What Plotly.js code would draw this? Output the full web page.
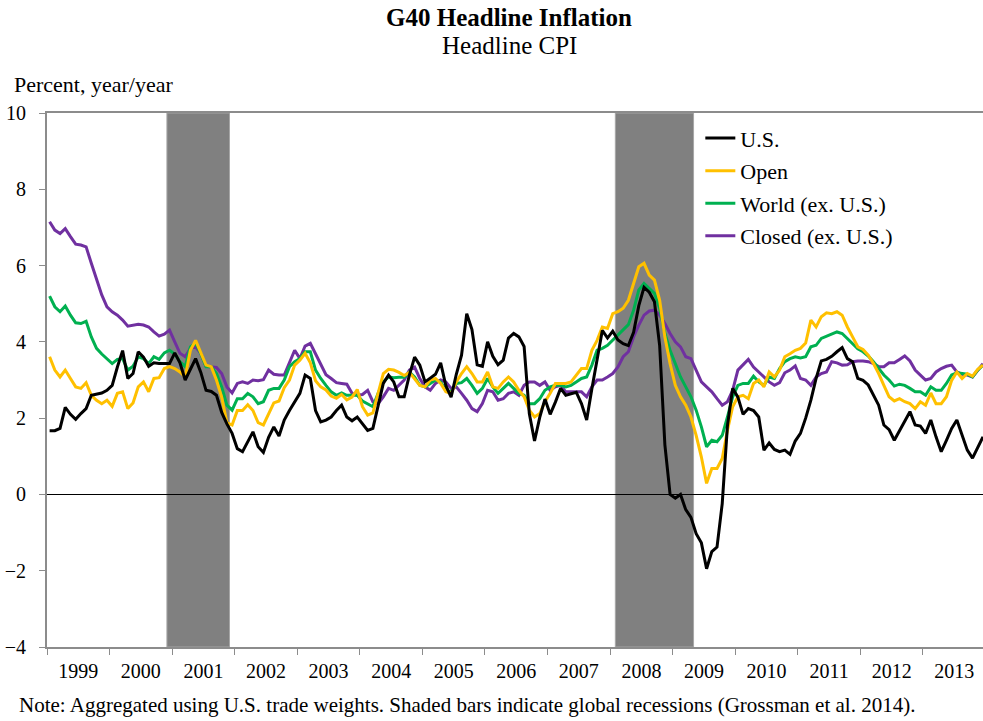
<!DOCTYPE html>
<html>
<head>
<meta charset="utf-8">
<script src="https://cdn.plot.ly/plotly-3.0.1.min.js"></script>
<style>
  html, body { margin: 0; padding: 0; background: #fff; }
  #chart { width: 983px; height: 721px; }
</style>
</head>
<body>
<div id="chart"></div>
<script>
// ---- Data (monthly, Jan 1999 - Dec 2013), percent year/year ----
const startYear = 1999;
const yearLabels = ["1999","2000","2001","2002","2003","2004","2005","2006","2007","2008","2009","2010","2011","2012","2013"];

const usSeries = [
  1.67, 1.67, 1.73, 2.28, 2.10, 1.97, 2.12, 2.25, 2.60, 2.63, 2.66, 2.73,
  2.86, 3.34, 3.77, 3.04, 3.17, 3.74, 3.60, 3.36, 3.45, 3.43, 3.43, 3.43,
  3.71, 3.45, 3.00, 3.30, 3.56, 3.20, 2.73, 2.70, 2.60, 2.15, 1.85, 1.60,
  1.20, 1.12, 1.40, 1.64, 1.25, 1.10, 1.50, 1.77, 1.53, 1.95, 2.20, 2.42,
  2.65, 3.13, 3.04, 2.20, 1.90, 1.95, 2.03, 2.20, 2.34, 2.03, 1.93, 2.03,
  1.86, 1.68, 1.73, 2.30, 2.91, 3.13, 2.95, 2.56, 2.56, 3.13, 3.60, 3.39,
  2.95, 3.05, 3.15, 3.45, 2.85, 2.55, 3.15, 3.65, 4.74, 4.32, 3.40, 3.36,
  4.00, 3.62, 3.40, 3.52, 4.10, 4.22, 4.13, 3.88, 2.12, 1.40, 2.02, 2.50,
  2.10, 2.42, 2.78, 2.60, 2.65, 2.68, 2.38, 1.95, 2.77, 3.50, 4.30, 4.10,
  4.28, 4.05, 3.95, 3.90, 4.25, 4.95, 5.43, 5.30, 5.05, 3.90, 1.30, 0.00,
  -0.10, 0.00, -0.40, -0.60, -1.03, -1.27, -1.95, -1.50, -1.38, -0.24, 1.80, 2.78,
  2.55, 2.10, 2.25, 2.20, 2.03, 1.16, 1.35, 1.18, 1.12, 1.16, 1.05, 1.40,
  1.60, 2.00, 2.47, 3.04, 3.50, 3.54, 3.62, 3.74, 3.85, 3.56, 3.48, 3.04,
  2.99, 2.87, 2.60, 2.34, 1.82, 1.70, 1.42, 1.68, 1.95, 2.17, 1.82, 1.79,
  1.60, 1.95, 1.51, 1.12, 1.42, 1.73, 1.95, 1.55, 1.16, 0.95, 1.25, 1.51
];

const openSeries = [
  3.61, 3.26, 3.08, 3.26, 3.04, 2.82, 2.78, 2.93, 2.60, 2.47, 2.38, 2.47,
  2.31, 2.65, 2.69, 2.25, 2.40, 2.82, 2.95, 2.69, 3.04, 3.06, 3.30, 3.35,
  3.30, 3.21, 3.08, 3.78, 4.04, 3.70, 3.39, 3.35, 3.00, 2.55, 1.88, 1.82,
  2.20, 2.20, 2.35, 2.20, 1.88, 1.82, 2.12, 2.40, 2.45, 2.80, 3.00, 3.39,
  3.52, 3.70, 3.45, 2.98, 2.82, 2.74, 2.58, 2.52, 2.62, 2.48, 2.55, 2.75,
  2.30, 2.08, 2.14, 2.65, 3.17, 3.28, 3.26, 3.20, 3.12, 3.20, 3.04, 2.86,
  2.82, 3.00, 3.04, 2.91, 2.69, 2.65, 2.95, 3.17, 3.35, 3.17, 2.95, 2.95,
  3.21, 2.82, 2.78, 2.95, 3.08, 2.95, 2.73, 2.56, 2.21, 2.03, 2.12, 2.43,
  2.65, 2.91, 2.91, 2.91, 2.95, 3.12, 3.30, 3.30, 3.78, 4.04, 4.39, 4.35,
  4.74, 4.79, 4.88, 5.09, 5.53, 5.97, 6.06, 5.75, 5.62, 5.09, 4.13, 3.43,
  2.86, 2.56, 2.34, 2.03, 1.55, 0.98, 0.29, 0.68, 0.68, 0.94, 1.68, 2.30,
  2.56, 2.60, 2.51, 2.91, 3.00, 2.82, 3.21, 3.08, 3.26, 3.61, 3.69, 3.78,
  3.83, 3.97, 4.57, 4.39, 4.66, 4.76, 4.74, 4.79, 4.70, 4.39, 4.13, 3.87,
  3.80, 3.65, 3.43, 3.17, 2.86, 2.56, 2.45, 2.51, 2.43, 2.38, 2.25, 2.43,
  2.34, 2.66, 2.38, 2.38, 2.56, 2.99, 3.21, 3.04, 3.17, 3.10, 3.28, 3.39
];

const worldSeries = [
  5.20, 4.92, 4.79, 4.94, 4.70, 4.50, 4.48, 4.54, 4.13, 3.83, 3.68, 3.56,
  3.43, 3.54, 3.56, 3.26, 3.36, 3.61, 3.56, 3.43, 3.61, 3.54, 3.71, 3.78,
  3.68, 3.48, 3.35, 3.87, 3.97, 3.69, 3.35, 3.35, 3.17, 2.82, 2.34, 2.21,
  2.51, 2.51, 2.65, 2.56, 2.38, 2.43, 2.73, 2.78, 2.78, 3.00, 3.35, 3.48,
  3.56, 3.74, 3.74, 3.26, 3.04, 2.86, 2.69, 2.60, 2.66, 2.60, 2.60, 2.60,
  2.45, 2.38, 2.30, 2.65, 2.95, 3.08, 3.06, 3.07, 3.07, 3.21, 3.08, 2.86,
  2.82, 2.91, 3.00, 2.95, 2.73, 2.69, 2.91, 2.93, 3.04, 2.86, 2.65, 2.78,
  3.04, 2.82, 2.65, 2.78, 2.91, 2.78, 2.65, 2.60, 2.38, 2.38, 2.51, 2.73,
  2.82, 2.86, 2.86, 2.82, 2.86, 2.95, 3.04, 3.08, 3.39, 3.78, 3.83, 3.91,
  4.04, 4.18, 4.31, 4.45, 4.83, 5.36, 5.53, 5.40, 5.27, 4.88, 4.22, 3.78,
  3.43, 3.08, 2.82, 2.56, 2.21, 1.77, 1.25, 1.42, 1.38, 1.55, 2.03, 2.56,
  2.86, 2.91, 2.91, 3.10, 2.95, 2.86, 3.08, 3.04, 3.30, 3.48, 3.56, 3.61,
  3.58, 3.61, 3.87, 3.91, 4.09, 4.15, 4.20, 4.26, 4.22, 4.09, 3.97, 3.82,
  3.74, 3.63, 3.48, 3.30, 3.13, 3.00, 2.84, 2.89, 2.86, 2.78, 2.69, 2.69,
  2.60, 2.82, 2.73, 2.73, 2.91, 3.13, 3.19, 3.17, 3.15, 3.08, 3.26, 3.39
];

const closedSeries = [
  7.15, 6.93, 6.84, 6.97, 6.76, 6.56, 6.54, 6.49, 6.06, 5.62, 5.23, 4.92,
  4.79, 4.70, 4.57, 4.41, 4.44, 4.46, 4.44, 4.39, 4.26, 4.15, 4.20, 4.31,
  4.00, 3.70, 3.61, 3.83, 3.87, 3.69, 3.36, 3.35, 3.33, 3.17, 2.82, 2.66,
  2.91, 2.95, 2.91, 3.00, 2.98, 3.01, 3.26, 3.15, 3.13, 3.13, 3.48, 3.78,
  3.56, 3.89, 3.96, 3.69, 3.39, 3.14, 3.04, 2.93, 2.91, 2.89, 2.65, 2.60,
  2.62, 2.73, 2.43, 2.38, 2.56, 2.78, 2.73, 2.86, 3.00, 3.26, 3.34, 3.04,
  2.82, 2.73, 2.91, 3.00, 2.95, 2.78, 2.82, 2.65, 2.47, 2.25, 2.17, 2.38,
  2.73, 2.69, 2.47, 2.51, 2.65, 2.69, 2.60, 2.86, 2.95, 2.95, 2.86, 2.95,
  2.73, 2.82, 2.86, 2.69, 2.69, 2.69, 2.69, 2.56, 2.82, 3.00, 3.00, 3.08,
  3.17, 3.34, 3.61, 3.74, 4.13, 4.44, 4.70, 4.81, 4.83, 4.70, 4.48, 4.22,
  4.00, 3.87, 3.61, 3.56, 3.26, 2.95, 2.82, 2.69, 2.51, 2.34, 2.43, 2.73,
  3.26, 3.39, 3.54, 3.34, 3.21, 3.10, 2.95, 2.86, 2.93, 3.19, 3.26, 3.37,
  3.04, 3.00, 2.86, 3.08, 3.17, 3.21, 3.48, 3.45, 3.39, 3.40, 3.48, 3.50,
  3.50, 3.48, 3.43, 3.35, 3.35, 3.45, 3.45, 3.54, 3.63, 3.50, 3.26, 3.13,
  3.00, 3.04, 3.21, 3.30, 3.36, 3.39, 3.21, 3.15, 3.13, 3.08, 3.26, 3.43
];

// Global recessions (first and last month, inclusive)
const recessionStart = ["2000-12", "2008-02"];
const recessionEnd   = ["2001-11", "2009-04"];

// ---- Build chart ----
const monthX = usSeries.map((_, i) => startYear + (i + 0.5) / 12);
function monthStart(s) { const [y, m] = s.split("-").map(Number); return y + (m - 1) / 12; }
function monthEnd(s)   { const [y, m] = s.split("-").map(Number); return y + m / 12; }

const FONT = "Liberation Serif, Times New Roman, serif";

const seriesDefs = [
  { name: "U.S.", y: usSeries, color: "#000000" },
  { name: "Open", y: openSeries, color: "#FFC000" },
  { name: "World (ex. U.S.)", y: worldSeries, color: "#00B050" },
  { name: "Closed (ex. U.S.)", y: closedSeries, color: "#7030A0" }
];

const traces = seriesDefs.map((s, k) => ({
  type: "scatter", mode: "lines", name: s.name,
  x: monthX, y: s.y,
  line: { color: s.color, width: 3 },
  legendgroup: "g" + k,
  hoverinfo: "skip"
}));
// draw order: closed, world, open, us on top (legend order kept by legendrank)
const drawOrder = [3, 2, 1, 0].map(k => Object.assign(traces[k], { legendrank: k + 1 }));

const shapes = recessionStart.map((s, k) => ({
  type: "rect", xref: "x", yref: "paper",
  x0: monthStart(s), x1: monthEnd(recessionEnd[k]), y0: 0, y1: 1,
  fillcolor: "#808080", line: { color: "#a6a6a6", width: 1 }, layer: "below"
}));

const yearMid = yearLabels.map(y => Number(y) + 0.5);
const yearBounds = yearLabels.map(y => Number(y)).concat([startYear + yearLabels.length]);

const layout = {
  width: 983, height: 721,
  margin: { l: 47, r: 0, t: 113, b: 74 },
  paper_bgcolor: "#ffffff", plot_bgcolor: "#ffffff",
  font: { family: FONT, size: 20, color: "#000" },
  showlegend: true,
  legend: {
    x: 0.698, y: 0.992, xanchor: "left", yanchor: "top",
    bgcolor: "rgba(255,255,255,0)", borderwidth: 0,
    font: { family: FONT, size: 22, color: "#000" },
    traceorder: "grouped", tracegroupgap: 1, itemwidth: 30
  },
  xaxis: {
    range: [startYear, startYear + 936 / 62.57],
    tickmode: "array", tickvals: yearMid, ticktext: yearLabels,
    ticks: "", showgrid: false, zeroline: false,
    showline: true, linecolor: "#8c8c8c", linewidth: 2, mirror: true,
    tickfont: { family: FONT, size: 20, color: "#000" },
    ticklabelstandoff: 5,
    minor: { tickmode: "array", tickvals: yearBounds, ticks: "outside", ticklen: 6, tickcolor: "#8c8c8c", tickwidth: 1, showgrid: false }
  },
  yaxis: {
    range: [-4, 10], dtick: 2, tick0: 0,
    ticks: "outside", ticklen: 6, tickcolor: "#8c8c8c", tickwidth: 1,
    showgrid: false,
    zeroline: true, zerolinecolor: "#000000", zerolinewidth: 1,
    showline: true, linecolor: "#8c8c8c", linewidth: 2,
    tickfont: { family: FONT, size: 20, color: "#000" },
    ticklabelstandoff: 9
  },
  shapes: shapes,
  annotations: [
    { text: "<b>G40 Headline Inflation</b>", xref: "paper", yref: "paper", x: 0.4936, y: 1.178,
      xanchor: "center", yanchor: "middle", showarrow: false, font: { family: FONT, size: 25, color: "#000" } },
    { text: "Headline CPI", xref: "paper", yref: "paper", x: 0.4936, y: 1.127,
      xanchor: "center", yanchor: "middle", showarrow: false, font: { family: FONT, size: 25, color: "#000" } },
    { text: "Percent, year/year", xref: "paper", yref: "paper", x: -0.0374, y: 1.054,
      xanchor: "left", yanchor: "middle", showarrow: false, font: { family: FONT, size: 22, color: "#000" } },
    { text: "Note: Aggregated using U.S. trade weights. Shaded bars indicate global recessions (Grossman et al. 2014).",
      xref: "paper", yref: "paper", x: -0.032, y: -0.1086,
      xanchor: "left", yanchor: "middle", showarrow: false, font: { family: FONT, size: 21, color: "#000" } }
  ]
};

Plotly.newPlot("chart", drawOrder, layout, { displayModeBar: false, staticPlot: true });
</script>
</body>
</html>
